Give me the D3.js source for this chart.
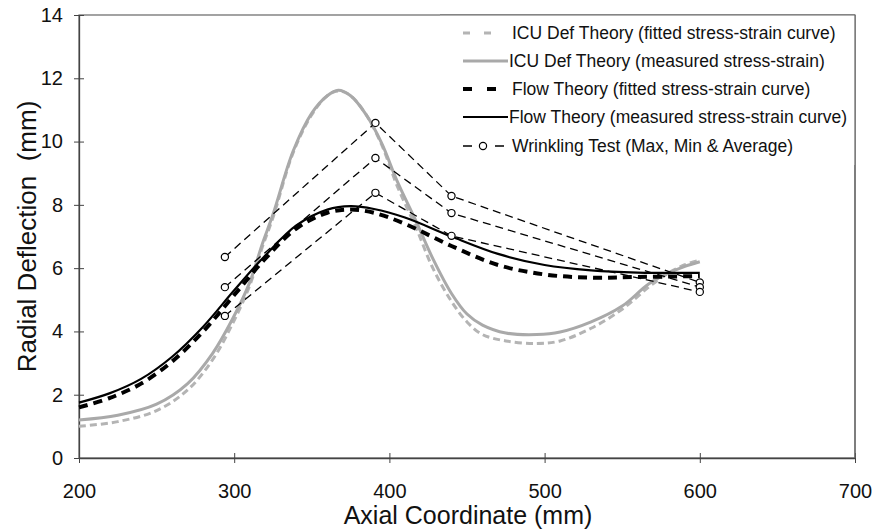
<!DOCTYPE html>
<html><head><meta charset="utf-8">
<script src="https://cdn.jsdelivr.net/npm/d3@7"></script>
<style>body{margin:0;background:#fff}svg{display:block}text{font-family:"Liberation Sans",Arial,sans-serif;fill:#111}</style>
</head><body><svg id="c" width="875" height="531"></svg>
<script>
// ---- data ----
const icuFittedX = [200,225,250,270,286,299,310,318,325,338,350,360,367,375,385,395,405,417,428,440,450,460,475,495,510,530,550,567,580,590,600];
const icuFittedY = [1.0,1.15,1.5,2.15,3.1,4.25,5.45,6.65,7.6,9.65,10.85,11.45,11.6,11.45,10.85,9.9,8.6,7.3,6.0,4.95,4.3,3.9,3.7,3.62,3.7,4.1,4.7,5.4,5.85,6.1,6.25];
const icuMeasX = [200,225,250,270,286,299,310,318,325,338,350,360,367,375,385,395,405,417,428,440,450,460,475,495,510,530,550,567,580,590,600];
const icuMeasY = [1.2,1.35,1.7,2.35,3.3,4.4,5.55,6.75,7.7,9.7,10.9,11.45,11.62,11.45,10.85,9.95,8.75,7.5,6.3,5.2,4.55,4.2,3.95,3.9,3.98,4.3,4.8,5.5,5.85,6.05,6.2];
const flowFittedX = [200,220,240,260,280,300,320,340,360,375,390,410,440,470,500,530,560,600];
const flowFittedY = [1.6,1.9,2.35,3.05,4.0,5.15,6.3,7.25,7.75,7.85,7.75,7.4,6.7,6.1,5.8,5.7,5.72,5.75];
const flowMeasX = [200,220,240,260,280,300,320,340,360,375,390,410,440,470,500,530,560,600];
const flowMeasY = [1.75,2.05,2.5,3.2,4.15,5.3,6.4,7.35,7.85,7.96,7.87,7.6,7.0,6.45,6.1,5.93,5.86,5.85];
const testX = [294,391,440,600];
const testMax = [6.35,10.59,8.28,5.55];
const testAvg = [5.40,9.48,7.74,5.40];
const testMin = [4.49,8.38,7.02,5.25];
const xTicks = [200,300,400,500,600,700];
const yTicks = [0,2,4,6,8,10,12,14];
const legendLabels = ["ICU Def Theory (fitted stress-strain curve)","ICU Def Theory (measured stress-strain)","Flow Theory (fitted stress-strain curve)","Flow Theory (measured stress-strain curve)","Wrinkling Test (Max, Min & Average)"];

const svg = d3.select("#c");
const L=79,R=855,T=15,B=458;
const x = d3.scaleLinear().domain([200,700]).range([L,R]);
const y = d3.scaleLinear().domain([0,14]).range([B,T]);
const pts = (xs,ys)=>xs.map((v,i)=>[v,ys[i]]);
const line = d3.line().x(d=>x(d[0])).y(d=>y(d[1])).curve(d3.curveCatmullRom.alpha(0.5));
const straight = d3.line().x(d=>x(d[0])).y(d=>y(d[1]));

// frame
svg.append("rect").attr("x",L).attr("y",T).attr("width",R-L).attr("height",B-T).attr("fill","none").attr("stroke","#666").attr("stroke-width",1.2);

// axes
const xa = svg.append("g").attr("transform",`translate(0,${B})`).call(d3.axisBottom(x).tickValues(xTicks).tickSize(5).tickSizeOuter(0).tickPadding(21));
const ya = svg.append("g").attr("transform",`translate(${L},0)`).call(d3.axisLeft(y).tickValues(yTicks).tickSize(5).tickSizeOuter(0).tickPadding(11));
[xa,ya].forEach(g=>{g.select(".domain").attr("stroke","#444").attr("stroke-width",1.3);
  g.selectAll(".tick text").attr("font-size",20).attr("font-family","Liberation Sans, Arial, sans-serif").attr("fill","#111");
  g.selectAll(".tick line").attr("stroke","#444");});
xa.selectAll(".tick line").attr("y1",-5).attr("y2",5);
ya.selectAll(".tick line").attr("x1",-5).attr("x2",5);
xa.selectAll(".tick text").attr("dy","0.71em");

// titles
svg.append("text").attr("x",(L+R)/2+1).attr("y",524).attr("text-anchor","middle").attr("font-size",25).text("Axial Coordinate (mm)");
svg.append("text").attr("transform",`translate(36,${(T+B)/2}) rotate(-90)`).attr("text-anchor","middle").attr("font-size",26).attr("xml:space","preserve").style("white-space","pre").text("Radial Deflection  (mm)");

// series
const gray="#a9a9a9";
svg.append("path").attr("d",line(pts(icuFittedX,icuFittedY))).attr("fill","none").attr("stroke","#b4b4b4").attr("stroke-width",3).attr("stroke-dasharray","7,4");
svg.append("path").attr("d",line(pts(icuMeasX,icuMeasY))).attr("fill","none").attr("stroke",gray).attr("stroke-width",3);
svg.append("path").attr("d",line(pts(flowFittedX,flowFittedY))).attr("fill","none").attr("stroke","#000").attr("stroke-width",4).attr("stroke-dasharray","9,6");
svg.append("path").attr("d",line(pts(flowMeasX,flowMeasY))).attr("fill","none").attr("stroke","#000").attr("stroke-width",2.2);
[testMax,testAvg,testMin].forEach(s=>{
  svg.append("path").attr("d",straight(pts(testX,s))).attr("fill","none").attr("stroke","#000").attr("stroke-width",1.3).attr("stroke-dasharray","8,5");
  svg.append("g").selectAll("circle").data(pts(testX,s)).join("circle").attr("cx",d=>x(d[0])).attr("cy",d=>y(d[1])).attr("r",3.6).attr("fill","#fff").attr("stroke","#000").attr("stroke-width",1.2);
});

// legend
const lg = svg.append("g");
const rowY = [33,61,89,117,146];
const sx=463, tx=509;
lg.append("rect").attr("x",440).attr("y",T).attr("width",R-440).attr("height",150).attr("fill","#fff").attr("stroke","none");
svg.append("line").attr("x1",440).attr("x2",R).attr("y1",T).attr("y2",T).attr("stroke","#666").attr("stroke-width",1.2);
svg.append("line").attr("x1",R).attr("x2",R).attr("y1",T).attr("y2",B).attr("stroke","#666").attr("stroke-width",1.2);
lg.append("line").attr("x1",sx).attr("x2",sx+38).attr("y1",rowY[0]).attr("y2",rowY[0]).attr("stroke","#b4b4b4").attr("stroke-width",3).attr("stroke-dasharray","7,14");
lg.append("line").attr("x1",sx).attr("x2",tx-1).attr("y1",rowY[1]).attr("y2",rowY[1]).attr("stroke",gray).attr("stroke-width",3);
lg.append("line").attr("x1",sx).attr("x2",sx+36).attr("y1",rowY[2]).attr("y2",rowY[2]).attr("stroke","#000").attr("stroke-width",4).attr("stroke-dasharray","9,15");
lg.append("line").attr("x1",sx).attr("x2",tx-1).attr("y1",rowY[3]).attr("y2",rowY[3]).attr("stroke","#000").attr("stroke-width",2.2);
lg.append("line").attr("x1",sx).attr("x2",sx+41).attr("y1",rowY[4]).attr("y2",rowY[4]).attr("stroke","#000").attr("stroke-width",1.3).attr("stroke-dasharray","9,23");
lg.append("circle").attr("cx",sx+20).attr("cy",rowY[4]).attr("r",3.6).attr("fill","#fff").attr("stroke","#000").attr("stroke-width",1.2);
lg.selectAll("text.lab").data(legendLabels).join("text").attr("class","lab").attr("x",(d,i)=>i===1||i===3?tx:tx+3).attr("y",(d,i)=>rowY[i]+6).attr("font-size",17.5).text(d=>d);
</script></body></html>
